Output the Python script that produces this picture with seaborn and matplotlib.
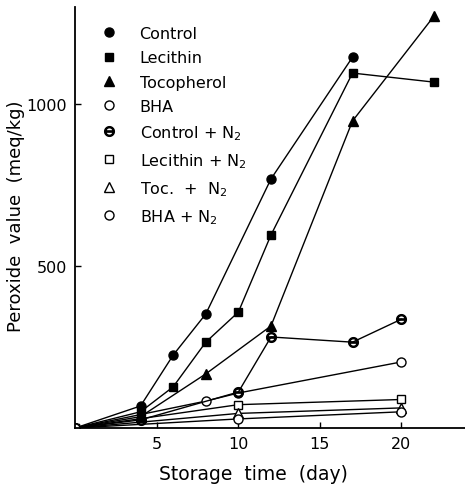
import matplotlib
matplotlib.use("Agg")
import matplotlib.pyplot as plt
from matplotlib.lines import Line2D
import seaborn as sns

# Values (day, peroxide value meq/kg)
control_days = [0, 4, 6, 8, 12, 17]
control_vals = [0, 68, 225, 352, 769, 1145]

lecithin_days = [0, 4, 6, 8, 10, 12, 17, 22]
lecithin_vals = [0, 50, 127, 265, 358, 596, 1096, 1068]

toc_days = [0, 4, 8, 12, 17, 22]
toc_vals = [0, 35, 167, 315, 948, 1272]

bha_days = [0, 8, 10, 20]
bha_vals = [0, 83, 108, 204]

control_n2_days = [0, 4, 10, 12, 17, 20]
control_n2_vals = [0, 25, 111, 281, 265, 336]

lecithin_n2_days = [0, 10, 20]
lecithin_n2_vals = [0, 72, 88]

toc_n2_days = [0, 10, 20]
toc_n2_vals = [0, 45, 62]

bha_n2_days = [0, 10, 20]
bha_n2_vals = [0, 28, 50]

labels = ["Control", "Lecithin", "Tocopherol", "BHA",
          "Control + N$_2$", "Lecithin + N$_2$", "Toc.  +  N$_2$", "BHA + N$_2$"]

sns.set_style("ticks", {"text.color": "black", "axes.labelcolor": "black",
                        "xtick.color": "black", "ytick.color": "black",
                        "axes.edgecolor": "black"})
plt.rcParams["font.family"] = ["DejaVu Sans"]

fig = plt.figure(figsize=(4.65, 4.85), dpi=100)
ax = fig.add_axes([0.162, 0.1155, 0.838, 0.868])

# (days, values, marker, facecolor, size)
series = [
    (control_days, control_vals, "o", "black", 6.5),
    (lecithin_days, lecithin_vals, "s", "black", 6),
    (toc_days, toc_vals, "^", "black", 7),
    (bha_days, bha_vals, "o", "white", 6.5),
    (control_n2_days, control_n2_vals, r"$\ominus$", "black", 7),
    (lecithin_n2_days, lecithin_n2_vals, "s", "white", 6),
    (toc_n2_days, toc_n2_vals, "^", "white", 7),
    (bha_n2_days, bha_n2_vals, "o", "white", 6.5),
]

handles = []
for (d, v, m, fc, ms), lab in zip(series, labels):
    sns.lineplot(x=d, y=v, ax=ax, color="black", linewidth=1.0,
                 marker=m, markersize=ms, markerfacecolor=fc,
                 markeredgecolor="black", markeredgewidth=1.0, legend=False)
    handles.append(Line2D([], [], linestyle="none", marker=m, markersize=ms,
                          markerfacecolor=fc, markeredgecolor="black",
                          markeredgewidth=1.0, label=lab))

ax.set_xlim(0, 23.9)
ax.set_ylim(0, 1300)
ax.set_xticks([5, 10, 15, 20])
ax.set_yticks([500, 1000])
ax.tick_params(direction="in", length=4, width=1.0, labelsize=11.5, pad=6,
               colors="black")
for s in ["top", "right"]:
    ax.spines[s].set_visible(False)
for s in ["left", "bottom"]:
    ax.spines[s].set_linewidth(1.3)
    ax.spines[s].set_color("black")

ax.set_xlabel("Storage  time  (day)", fontsize=13.5, color="black")
ax.xaxis.set_label_coords(0.458, -0.085)
ax.set_ylabel("Peroxide  value  (meq/kg)", fontsize=13, color="black")
ax.yaxis.set_label_coords(-0.13, 0.505)

leg = ax.legend(handles=handles, loc="upper left", bbox_to_anchor=(0.05, 0.97),
                frameon=False, fontsize=11.5, handlelength=1.0, handletextpad=1.4,
                labelspacing=0.58, borderaxespad=0)
for t in leg.get_texts():
    t.set_color("black")

fig.savefig("out.png", dpi=100)
